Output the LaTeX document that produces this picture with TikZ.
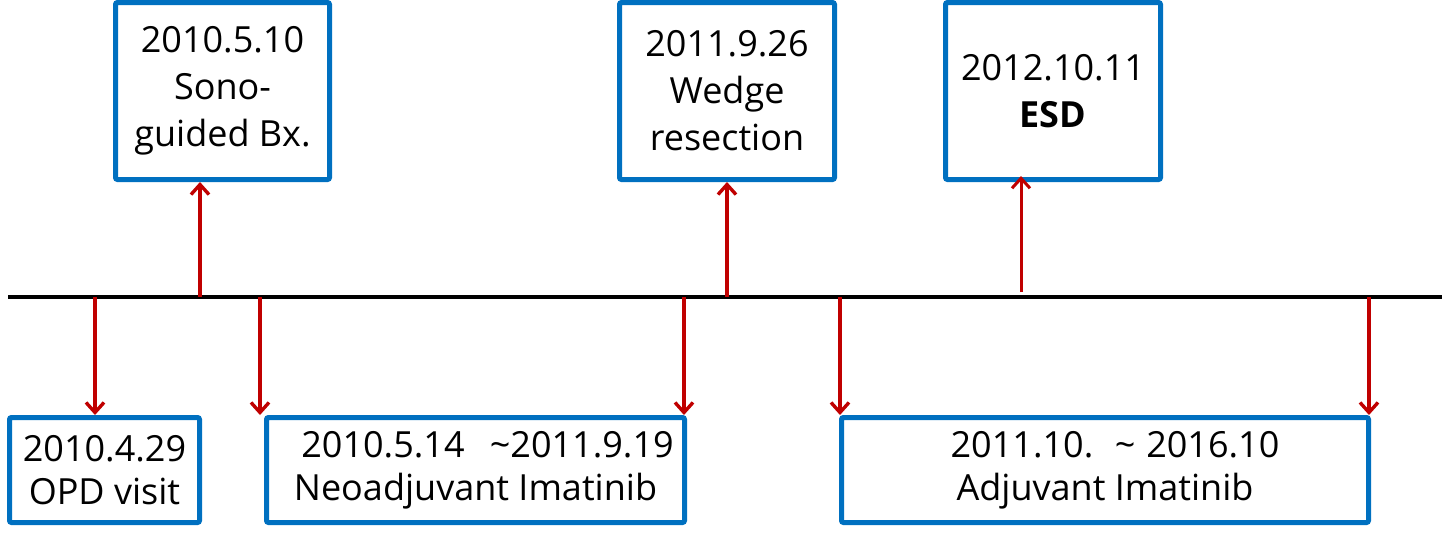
\documentclass[tikz,border=0pt]{standalone}
\usepackage{fontspec}
\setmainfont{Open Sans}
\usetikzlibrary{arrows.meta,positioning,calc}
\definecolor{boxblue}{RGB}{0,112,192}
\definecolor{arrowred}{RGB}{192,0,0}

\begin{document}
\begin{tikzpicture}[x=0.5pt,y=-0.5pt,font=\fontsize{18}{23.5}\selectfont,
  evbox/.style={draw=boxblue,line width=2.5pt,rounded corners=1pt,inner sep=0pt,
    align=center,minimum width=107.5pt,minimum height=88.5pt},
  spanbox/.style={evbox,minimum height=52.5pt,font=\fontsize{18}{21.5}\selectfont},
  evarrow/.style={draw=arrowred,line width=1.7pt,-{Straight Barb[length=5pt,width=9pt]}}]
\useasboundingbox (0,0) rectangle (1442,538);
% timeline
\draw[line width=1.75pt] (8,297) coordinate (tstart) -- (1442,297) coordinate (tend);
\foreach \n/\x in {opdt/95,sonot/200,neoa/260,neob/684,wedget/727,adja/840,adjb/1369}{
  \coordinate (\n) at (\x,297);
}
\coordinate (esdt) at (1021,292);
% events above the line
\node[evbox,minimum width=107pt] (sono) at (222.5,91) {2010.5.10\\Sono-\\guided Bx.};
\node[evbox] (wedge) at (727,91) {2011.9.26\\Wedge\\resection};
\node[evbox] (esd) at (1053,91) {2012.10.11\\\textbf{ESD}};
% events below the line
\node[spanbox,minimum width=95pt] (opd) at (104.5,470) {2010.4.29\\OPD visit};
\node[spanbox,minimum width=209pt] (neo) at (475.5,470)
  {\hspace*{12pt}2010.5.14\hspace{0.7em}\textasciitilde 2011.9.19\\Neoadjuvant Imatinib};
\node[spanbox,minimum width=263.5pt] (adj) at (1105,470)
  {\hspace*{10pt}2011.10.\hspace{0.6em}\textasciitilde\hspace{0.3em}2016.10\\Adjuvant Imatinib};
% arrows
\draw[evarrow] (sonot) -- (sonot |- sono.south);
\draw[evarrow] (wedget) -- (wedget |- wedge.south);
\draw[evarrow,line width=1.5pt] (esdt) -- ([yshift=3pt]esdt |- esd.south);
\draw[evarrow] (opdt) -- (opdt |- opd.north);
\draw[evarrow] (neoa) -- (neoa |- neo.north);
\draw[evarrow] (neob) -- (neob |- neo.north);
\draw[evarrow] (adja) -- (adja |- adj.north);
\draw[evarrow] (adjb) -- (adjb |- adj.north);
\end{tikzpicture}
\end{document}
